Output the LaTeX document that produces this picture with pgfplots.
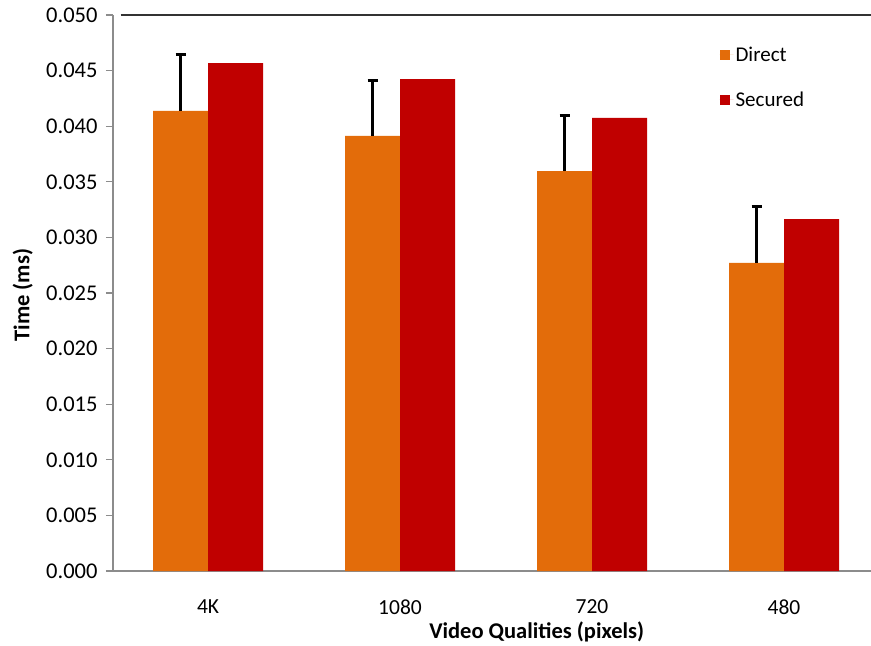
\documentclass[border=0pt]{standalone}
\usepackage{fontspec}
\setmainfont{Carlito}
\usepackage{pgfplots}
\pgfplotsset{compat=1.18}
\definecolor{cdirect}{HTML}{E36C0A}
\definecolor{csecured}{HTML}{C00000}
\definecolor{axgray}{HTML}{8C8C8C}
\begin{document}
\begin{tikzpicture}
\useasboundingbox (-113bp,-75bp) rectangle (758bp,571bp);
\begin{axis}[
  at={(0,0)}, anchor=south west,
  scale only axis,
  width=758bp, height=556bp,
  xmin=-0.495, xmax=3.453,
  ymin=0, ymax=0.050,
  ybar=0pt, bar width=55bp,
  axis x line=bottom, axis y line=left,
  axis line style={-, draw=axgray, line width=1.2bp},
  xtick={0,1,2,3},
  xticklabels={4K,1080,720,480},
  x tick style={draw=none},
  ytick={0,0.005,...,0.0501},
  y tick style={draw=axgray, line width=1.2bp},
  tick align=outside,
  major tick length=7bp,
  scaled y ticks=false,
  /pgf/number format/fixed,
  /pgf/number format/fixed zerofill,
  /pgf/number format/precision=3,
  /pgf/number format/assume math mode=true,
  yticklabel style={font=\fontsize{22.5bp}{25bp}\selectfont, xshift=-5bp},
  xticklabel style={font=\fontsize{21.5bp}{24bp}\selectfont, anchor=center, yshift=-29bp},
  xlabel={\bfseries Video Qualities (pixels)},
  xlabel style={font=\fontsize{22.5bp}{25bp}\selectfont, at={(axis description cs:0.559,-0.11)}, anchor=center},
  ylabel={\bfseries Time (ms)},
  ylabel style={font=\fontsize{22.5bp}{25bp}\selectfont, at={(axis description cs:-0.119,0.496)}, anchor=center},
  legend style={draw=none, fill=none, at={(0.796,0.95)}, anchor=north west,
    font=\fontsize{21bp}{24bp}\selectfont, row sep=25bp},
  legend cell align=left,
  legend image code/.code={\fill[#1] (0bp,-5bp) rectangle (10bp,5bp); \path (0bp,0bp) -- (14bp,0bp);},
  clip=false,
]
\addplot[fill=cdirect, draw=none,
  error bars/.cd, y dir=plus, y explicit,
  error bar style={line width=3bp, black},
  error mark options={rotate=90, mark size=5bp, line width=3bp, black}]
  coordinates {
  (0,0.04137) +- (0,0.00512)
  (1,0.03912) +- (0,0.00503)
  (2,0.03597) +- (0,0.00495)
  (3,0.02770) +- (0,0.00512)
};
\addlegendentry{Direct}
\addplot[fill=csecured, draw=none]
  coordinates {(0,0.04568) (1,0.04424) (2,0.04074) (3,0.03165)};
\addlegendentry{Secured}
\draw[black!80, line width=1.5bp] (axis description cs:0.01,1) -- (axis description cs:1,1);
\end{axis}
\end{tikzpicture}
\end{document}
